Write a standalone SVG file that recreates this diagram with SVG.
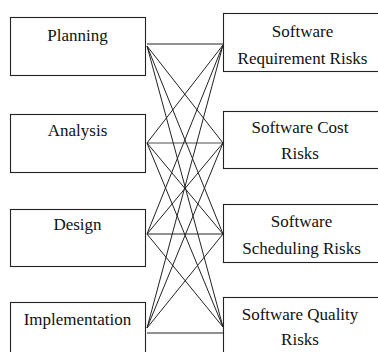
<svg xmlns="http://www.w3.org/2000/svg" width="378" height="352" viewBox="0 0 378 352">
<style>
.box{fill:#fff;stroke:#222;stroke-width:1.1}
.t{font-family:"Liberation Serif","Times New Roman",serif;font-size:17px;fill:#111;text-anchor:middle}
.c{stroke:#222;stroke-width:1;fill:none}
.g{stroke:#888;stroke-width:1.3;fill:none}
</style>
<rect width="378" height="352" fill="#fff"/>
<g id="connectors">
<path class="c" d="M147,44H223 M147,234H223 M147,333H223"/>
<path class="g" d="M147,143H223"/>
<path class="c" d="M147,46L223,143 M147,46L223,234 M147,46L223,327"/>
<path class="c" d="M147,143L223,45 M147,143L223,234 M147,143L223,327"/>
<path class="c" d="M147,234L223,45 M147,234L223,143 M147,234L223,327"/>
<path class="c" d="M147,328L223,45 M147,328L223,143 M147,328L223,234"/>
</g>
<g id="planning"><rect class="box" x="10.5" y="17.5" width="135" height="58"/><text class="t" x="77.5" y="41">Planning</text></g>
<g id="analysis"><rect class="box" x="10.5" y="114.5" width="135" height="58"/><text class="t" x="77.5" y="136">Analysis</text></g>
<g id="design"><rect class="box" x="10.5" y="209.5" width="135" height="57"/><text class="t" x="77.5" y="230">Design</text></g>
<g id="implementation"><rect class="box" x="10.5" y="302.5" width="135" height="60"/><text class="t" x="77.5" y="325">Implementation</text></g>
<g id="requirement"><rect class="box" x="223.5" y="13.5" width="160" height="58"/><text class="t" x="302.5" y="37">Software</text><text class="t" x="302.5" y="64">Requirement Risks</text></g>
<g id="cost"><rect class="box" x="223.5" y="111.5" width="160" height="57"/><text class="t" x="300" y="133">Software Cost</text><text class="t" x="300" y="159">Risks</text></g>
<g id="scheduling"><rect class="box" x="223.5" y="204.5" width="160" height="58"/><text class="t" x="301.5" y="227">Software</text><text class="t" x="301.5" y="254">Scheduling Risks</text></g>
<g id="quality"><rect class="box" x="223.5" y="297.5" width="160" height="65"/><text class="t" x="300" y="320">Software Quality</text><text class="t" x="300" y="345">Risks</text></g>
</svg>
